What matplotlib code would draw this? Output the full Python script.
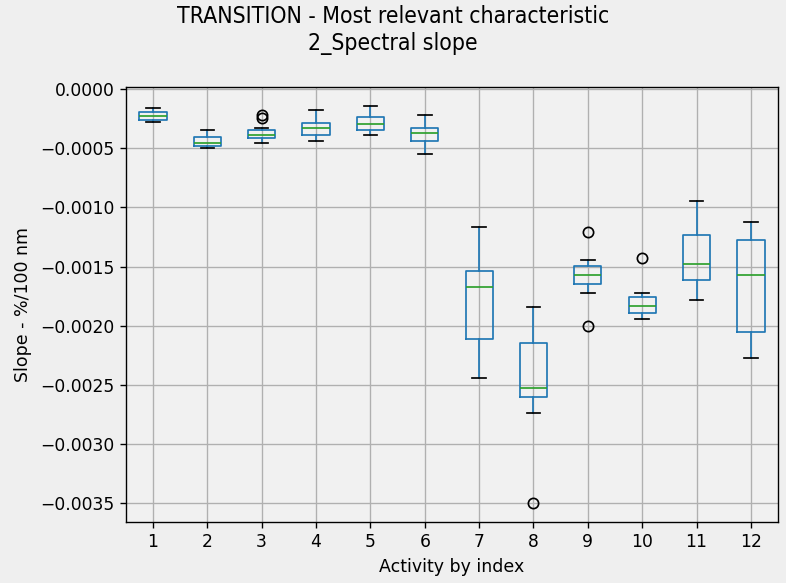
import matplotlib
matplotlib.use("Agg")
import matplotlib.pyplot as plt
from matplotlib.ticker import FuncFormatter

activities = list(range(1, 13))
whislo = [-0.000276, -0.000496, -0.000454, -0.000442, -0.000389, -0.000550,
          -0.002441, -0.002737, -0.001722, -0.001945, -0.001784, -0.002272]
q1 = [-0.000256, -0.000476, -0.000412, -0.000389, -0.000341, -0.000434,
      -0.002111, -0.002602, -0.001651, -0.001894, -0.001615, -0.002052]
med = [-0.000228, -0.000454, -0.000383, -0.000327, -0.000293, -0.000369,
       -0.001672, -0.002528, -0.001575, -0.001837, -0.001480, -0.001575]
q3 = [-0.000189, -0.000400, -0.000347, -0.000282, -0.000239, -0.000327,
      -0.001533, -0.002145, -0.001491, -0.001756, -0.001234, -0.001279]
whishi = [-0.000158, -0.000347, -0.000327, -0.000178, -0.000144, -0.000217,
          -0.001164, -0.001841, -0.001440, -0.001722, -0.000941, -0.001122]
fliers = [[], [], [-0.000215, -0.000245], [], [], [],
          [], [-0.003498], [-0.001206, -0.002004], [-0.001426], [], []]
yticks = [0, -0.0005, -0.0010, -0.0015, -0.0020, -0.0025, -0.0030, -0.0035]

stats = []
for i in range(len(activities)):
    stats.append(dict(label=str(activities[i]), whislo=whislo[i], q1=q1[i],
                      med=med[i], q3=q3[i], whishi=whishi[i], fliers=fliers[i]))

s = 1.23  # the reference looks like a 100-dpi pandas plot blown up a bit
plt.rcParams["xtick.major.size"] = 3.5 * s
plt.rcParams["ytick.major.size"] = 3.5 * s
plt.rcParams["xtick.major.width"] = 0.8 * s
plt.rcParams["ytick.major.width"] = 0.8 * s
plt.rcParams["axes.linewidth"] = 0.8 * s

fig = plt.figure(figsize=(7.86, 5.83), dpi=100, facecolor="#efefef")
ax = fig.add_axes([0.160, 0.1046, 0.830, 0.7464], facecolor="#f1f1f1")

blue = "#1f77b4"
lw = 1.0 * s
ax.bxp(stats, positions=activities, widths=0.5,
       boxprops=dict(color=blue, linewidth=lw),
       whiskerprops=dict(color=blue, linewidth=lw),
       capprops=dict(color="black", linewidth=lw),
       medianprops=dict(color="#2ca02c", linewidth=lw),
       flierprops=dict(marker="o", markerfacecolor="none",
                       markeredgecolor="black", markersize=6 * s,
                       markeredgewidth=lw))

ax.set_xlim(0.5, 12.5)
ax.set_ylim(-0.00366, 0.00002)
ax.set_yticks(yticks)
ax.yaxis.set_major_formatter(
    FuncFormatter(lambda v, p: ("%.4f" % v).replace("-", "\u2212")))
ax.grid(True, color="#b0b0b0", linewidth=0.8 * s)
ax.set_axisbelow(True)
ax.tick_params(labelsize=12.3)
ax.set_xlabel("Activity by index", fontsize=12.5, labelpad=5.5)
ax.set_ylabel("Slope - %/100 nm", fontsize=12.5, labelpad=6.5)
fig.suptitle("TRANSITION - Most relevant characteristic\n2_Spectral slope",
             fontsize=16.5, y=1 - 5 / 583, va="top", fontstretch="condensed",
             linespacing=1.22)

fig.savefig("out.png", dpi=100, facecolor=fig.get_facecolor())
